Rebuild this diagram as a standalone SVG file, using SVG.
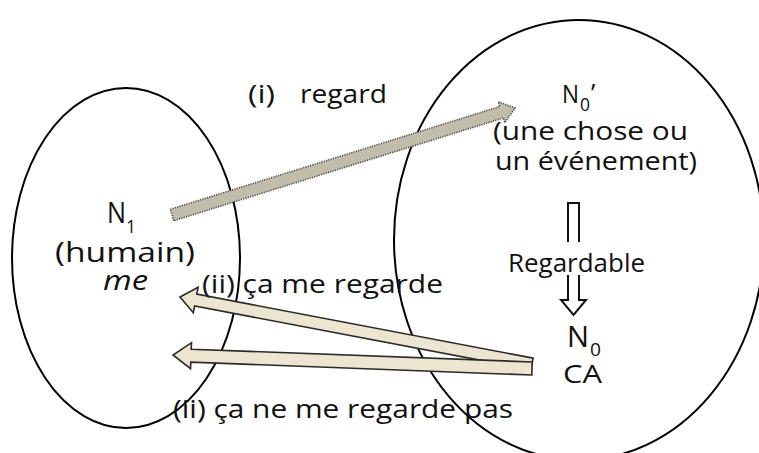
<svg xmlns="http://www.w3.org/2000/svg" width="759" height="453" viewBox="0 0 759 453">
<style>
  .ell { fill: none; stroke: #000; stroke-width: 2; }
  .t { font-family: "Open Sans", "Noto Sans", "DejaVu Sans", sans-serif; fill: #111; font-size: 25px; }
  .big { font-size: 27px; }
  .n { font-size: 29px; }
  .sub { font-size: 19px; }
  .dot { fill: #c2bdab; stroke: #4a4a4a; stroke-width: 1.6; stroke-dasharray: 1.2 1.2; }
  .beige { fill: #ece5cf; stroke: #2a2a2a; stroke-width: 1.6; stroke-linejoin: miter; }
  .sym { fill: none; stroke: #111; stroke-width: 2; }
</style>
<rect width="759" height="453" fill="#fff"/>

<g id="node-n1">
  <ellipse class="ell" cx="126" cy="258" rx="114" ry="170"/>
  <text class="t n" x="107" y="223" textLength="19" lengthAdjust="spacingAndGlyphs">N</text>
  <text class="t sub" x="126" y="233" textLength="10" lengthAdjust="spacingAndGlyphs">1</text>
  <text class="t big" x="55" y="262" textLength="140" lengthAdjust="spacingAndGlyphs">(humain)</text>
  <text class="t big" x="103" y="290" font-style="italic" textLength="45" lengthAdjust="spacingAndGlyphs">me</text>
</g>

<g id="node-n0">
  <ellipse class="ell" cx="579" cy="240" rx="185" ry="220"/>
  <text class="t" x="562" y="103" font-size="26" textLength="17" lengthAdjust="spacingAndGlyphs">N</text>
  <text class="t sub" x="580" y="111" font-size="18" textLength="10" lengthAdjust="spacingAndGlyphs">0</text>
  <text class="t" x="591" y="102">’</text>
  <text class="t" x="493" y="140" textLength="195" lengthAdjust="spacingAndGlyphs">(une chose ou</text>
  <text class="t" x="495" y="170" textLength="202" lengthAdjust="spacingAndGlyphs">un événement)</text>
  <path class="sym" d="M568 242 V203 H579 V242"/>
  <text class="t" x="508" y="272" textLength="137" lengthAdjust="spacingAndGlyphs">Regardable</text>
  <path class="sym" d="M568 275 V300 H561 L573.5 315 L586 300 H579 V275"/>
  <text class="t n" x="567" y="347" font-size="28" textLength="22" lengthAdjust="spacingAndGlyphs">N</text>
  <text class="t sub" x="590" y="356" textLength="11" lengthAdjust="spacingAndGlyphs">0</text>
  <text class="t" x="563" y="383" textLength="39" lengthAdjust="spacingAndGlyphs">CA</text>
</g>

<g id="connectors">
  <polygon class="dot" points="173.8,220.7 170.2,209.3 499.8,106.5 498.3,101.7 515,108 504.9,122.7 503.4,117.9"/>
  <polygon class="beige" points="533.1,358.1 196.8,294.1 198.1,287.2 180,297 193.3,312.8 194.6,305.9 530.9,369.9"/>
  <polygon class="beige" points="532.2,362 191.2,349.2 191.5,342.7 173,355 190.5,368.7 190.8,362.2 531.8,375"/>
</g>

<g id="labels">
  <text class="t"><tspan x="248" y="103" textLength="27" lengthAdjust="spacingAndGlyphs">(i)</tspan><tspan x="300" y="103" textLength="87" lengthAdjust="spacingAndGlyphs">regard</tspan></text>
  <text class="t" x="202" y="293" textLength="241" lengthAdjust="spacingAndGlyphs">(ii) ça me regarde</text>
  <text class="t" x="173" y="418" textLength="340" lengthAdjust="spacingAndGlyphs">(ii) ça ne me regarde pas</text>
</g>
</svg>
